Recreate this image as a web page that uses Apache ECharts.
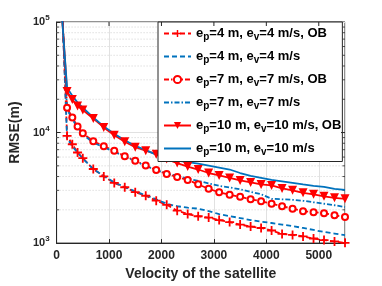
<!DOCTYPE html>
<html>
<head>
<meta charset="utf-8">
<script src="https://cdn.jsdelivr.net/npm/echarts@6/dist/echarts.min.js"></script>
<style>
html,body{margin:0;padding:0;background:#fff;}
#chart{width:382px;height:286px;}
</style>
</head>
<body>
<div id="chart"></div>
<script>
// ---- data ----
const velocities = [100, 200, 300, 400, 500, 700, 900, 1100, 1300, 1500, 1700, 1900, 2100, 2300, 2500,
  2700, 2900, 3100, 3300, 3500, 3700, 3900, 4100, 4300, 4500, 4700, 4900, 5100, 5300, 5500];

const rmseEp4OB = [170000, 9340, 7840, 6600, 5870, 4680, 4010, 3500, 3200, 2890, 2680, 2420, 2220, 1965, 1830,
  1750, 1700, 1615, 1550, 1470, 1410, 1370, 1300, 1210, 1185, 1150, 1100, 1065, 1035, 1005];
const rmseEp4 = [165000, 8870, 7520, 6580, 5810, 4680, 4050, 3540, 3225, 2940, 2705, 2490, 2270, 2155, 2090,
  2050, 1945, 1830, 1755, 1685, 1615, 1565, 1520, 1470, 1425, 1370, 1315, 1260, 1220, 1180];
const rmseEp7OB = [140000, 16730, 13690, 11370, 9835, 8340, 7520, 6855, 6115, 5570, 5030, 4580, 4220, 3965, 3730,
  3400, 3095, 2880, 2735, 2625, 2490, 2390, 2270, 2155, 2050, 1945, 1905, 1865, 1790, 1720];
const rmseEp7 = [135000, 16150, 13270, 11020, 9640, 8085, 7370, 6710, 6050, 5520, 4980, 4580, 4260, 4050, 3845,
  3650, 3470, 3295, 3190, 3065, 2910, 2765, 2515, 2490, 2465, 2415, 2340, 2270, 2200, 2120];
const rmseEp10OB = [120000, 23560, 19860, 17360, 15980, 13410, 11130, 9440, 8250, 7370, 6855, 6375, 5750, 5295, 4925,
  4630, 4305, 4090, 3885, 3690, 3540, 3395, 3325, 3125, 3000, 2850, 2765, 2650, 2570, 2515];
const rmseEp10 = [116000, 25430, 21560, 18660, 16830, 13690, 11370, 9735, 8510, 7600, 6925, 6310, 5930, 5570, 5405,
  5240, 5030, 4825, 4630, 4305, 4050, 3885, 3725, 3615, 3505, 3395, 3295, 3225, 3095, 3030];

const legendNames = ['ep4OB', 'ep4', 'ep7OB', 'ep7', 'ep10OB', 'ep10'];
const legendPos = ['4 m', '4 m', '7 m', '7 m', '10 m', '10 m'];
const legendVel = ['4 m/s', '4 m/s', '7 m/s', '7 m/s', '10 m/s', '10 m/s'];
const legendOB = [true, false, true, false, true, false];

const xTickValues = [0, 1000, 2000, 3000, 4000, 5000];
const yMajorTicks = [1000, 10000, 100000];
const yMinorTicks = [2000, 3000, 4000, 5000, 6000, 7000, 8000, 9000,
  20000, 30000, 40000, 50000, 60000, 70000, 80000, 90000];

const xTitle = 'Velocity of the satellite';
const yTitle = 'RMSE(m)';

// ---- chart ----
const RED = '#FF0000', BLUE = '#0072BD', AX = '#262626';
const FONT = 'Liberation Sans';
const X_MIN = 0, X_MAX = 5500, Y_MIN = 1000, Y_MAX = 100000;

function pairs(arr) { return velocities.map((v, i) => [v, arr[i]]); }

const plusPath = 'path://M4,0L6,0L6,4L10,4L10,6L6,6L6,10L4,10L4,6L0,6L0,4L4,4Z';

const chart = echarts.init(document.getElementById('chart'), null, {renderer: 'canvas'});

const seriesDefs = [
  {name: legendNames[0], data: rmseEp4OB, color: RED, dash: [5, 3], symbol: plusPath, size: 9},
  {name: legendNames[1], data: rmseEp4, color: BLUE, dash: [5, 3], symbol: 'none'},
  {name: legendNames[2], data: rmseEp7OB, color: RED, dash: [5, 2, 1.5, 2], symbol: 'emptyCircle', size: 6},
  {name: legendNames[3], data: rmseEp7, color: BLUE, dash: [5, 2, 1.5, 2], symbol: 'none'},
  {name: legendNames[4], data: rmseEp10OB, color: RED, dash: null, symbol: 'triangle', size: 9, rotate: 180},
  {name: legendNames[5], data: rmseEp10, color: BLUE, dash: null, symbol: 'none'}
];

const lineSeries = seriesDefs.map(d => ({
  type: 'line',
  name: d.name,
  data: pairs(d.data),
  clip: true,
  z: 3,
  showSymbol: d.symbol !== 'none',
  showAllSymbol: true,
  symbol: d.symbol,
  symbolSize: d.size || 6,
  symbolRotate: d.rotate || 0,
  color: d.color,
  itemStyle: d.symbol === 'emptyCircle' ? {color: d.color, borderWidth: 1.4} : {color: d.color},
  lineStyle: {color: d.color, width: 1.8, type: d.dash ? d.dash : 'solid'},
  emphasis: {disabled: true},
  animation: false
}));

// minor dotted grid + minor ticks (log axis decades 2..9)
const minorSeries = {
  type: 'custom',
  name: 'minor',
  silent: true,
  z: 1,
  data: yMinorTicks.map(v => [X_MIN, v]),
  encode: {x: 0, y: 1},
  renderItem: function (params, api) {
    const v = api.value(1);
    const p0 = api.coord([X_MIN, v]);
    const p1 = api.coord([X_MAX, v]);
    return {
      type: 'group',
      children: [
        {type: 'line', shape: {x1: p0[0], y1: p0[1], x2: p1[0], y2: p1[1]},
          style: {stroke: '#c4c4c4', lineWidth: 0.8, lineDash: [1, 2]}},
        {type: 'line', shape: {x1: p0[0], y1: p0[1], x2: p0[0] + 2.5, y2: p0[1]},
          style: {stroke: AX, lineWidth: 0.8}},
        {type: 'line', shape: {x1: p1[0], y1: p1[1], x2: p1[0] - 2.5, y2: p1[1]},
          style: {stroke: AX, lineWidth: 0.8}}
      ]
    };
  }
};

// ticks on the top and right frame (MATLAB box style)
const frameTicks = xTickValues.filter(v => v > X_MIN).map(v => [v, Y_MAX, 0])
  .concat(yMajorTicks.filter(v => v > Y_MIN && v < Y_MAX).map(v => [X_MAX, v, 1]));
const frameSeries = {
  type: 'custom',
  name: 'frame',
  silent: true,
  z: 4,
  data: frameTicks,
  encode: {x: 0, y: 1},
  renderItem: function (params, api) {
    const p = api.coord([api.value(0), api.value(1)]);
    const kind = api.value(2);
    const shape = kind === 0 ? {x1: p[0], y1: p[1], x2: p[0], y2: p[1] + 4}
                             : {x1: p[0], y1: p[1], x2: p[0] - 4, y2: p[1]};
    return {type: 'line', shape: shape, style: {stroke: AX, lineWidth: 1}};
  }
};

const option = {
  animation: false,
  backgroundColor: '#fff',
  grid: {left: 50, right: 37, top: 22, bottom: 41, show: true, borderColor: AX, borderWidth: 1, backgroundColor: '#fff'},
  xAxis: {
    type: 'value', min: X_MIN, max: X_MAX, interval: 1000,
    axisLine: {show: true, lineStyle: {color: AX, width: 1}},
    axisTick: {show: true, inside: true, length: 4, lineStyle: {color: AX}},
    axisLabel: {
      color: AX, fontFamily: FONT, fontSize: 12, fontWeight: 'bold', margin: 7,
      formatter: v => (xTickValues.indexOf(v) >= 0 ? String(v) : '')
    },
    splitLine: {show: true, lineStyle: {color: '#e1e1e1', width: 1}},
    name: xTitle, nameLocation: 'middle', nameGap: 22,
    nameTextStyle: {color: AX, fontFamily: FONT, fontSize: 14, fontWeight: 'bold'}
  },
  yAxis: {
    type: 'log', logBase: 10, min: Y_MIN, max: Y_MAX,
    axisLine: {show: true, lineStyle: {color: AX, width: 1}},
    axisTick: {show: true, inside: true, length: 4, lineStyle: {color: AX}},
    axisLabel: {
      margin: 7,
      formatter: v => '{b|10}{s|' + Math.round(Math.log10(v)) + '}',
      rich: {
        b: {color: AX, fontFamily: FONT, fontSize: 11, fontWeight: 'bold', lineHeight: 16},
        s: {color: AX, fontFamily: FONT, fontSize: 8, fontWeight: 'bold', lineHeight: 8, verticalAlign: 'top'}
      }
    },
    splitLine: {show: true, lineStyle: {color: '#e1e1e1', width: 1}},
    name: yTitle, nameLocation: 'middle', nameGap: 28, nameRotate: 90,
    nameTextStyle: {color: AX, fontFamily: FONT, fontSize: 14, fontWeight: 'bold'}
  },
  legend: {
    data: legendNames.map((n, i) => legendOB[i] ? {name: n} : {name: n, itemStyle: {opacity: 0}}),
    orient: 'vertical',
    left: 158, top: 22,
    padding: [5, 1, 4, 5],
    itemGap: 7.5,
    itemWidth: 27, itemHeight: 9,
    backgroundColor: '#fff',
    borderColor: AX, borderWidth: 1, borderRadius: 0,
    selectedMode: false,
    formatter: function (name) {
      const i = legendNames.indexOf(name);
      return '{t|e}{s|p}{t|=' + legendPos[i] + ', e}{s|v}{t|=' + legendVel[i] + (legendOB[i] ? ', OB' : '') + '}';
    },
    textStyle: {
      color: '#000', fontFamily: FONT, fontSize: 13, fontWeight: 'bold',
      rich: {
        t: {color: '#000', fontFamily: FONT, fontSize: 13, fontWeight: 'bold', lineHeight: 18},
        s: {color: '#000', fontFamily: FONT, fontSize: 10, fontWeight: 'bold', lineHeight: 10, verticalAlign: 'bottom'}
      }
    }
  },
  series: [minorSeries].concat(lineSeries).concat([frameSeries])
};

chart.setOption(option);
</script>
</body>
</html>
